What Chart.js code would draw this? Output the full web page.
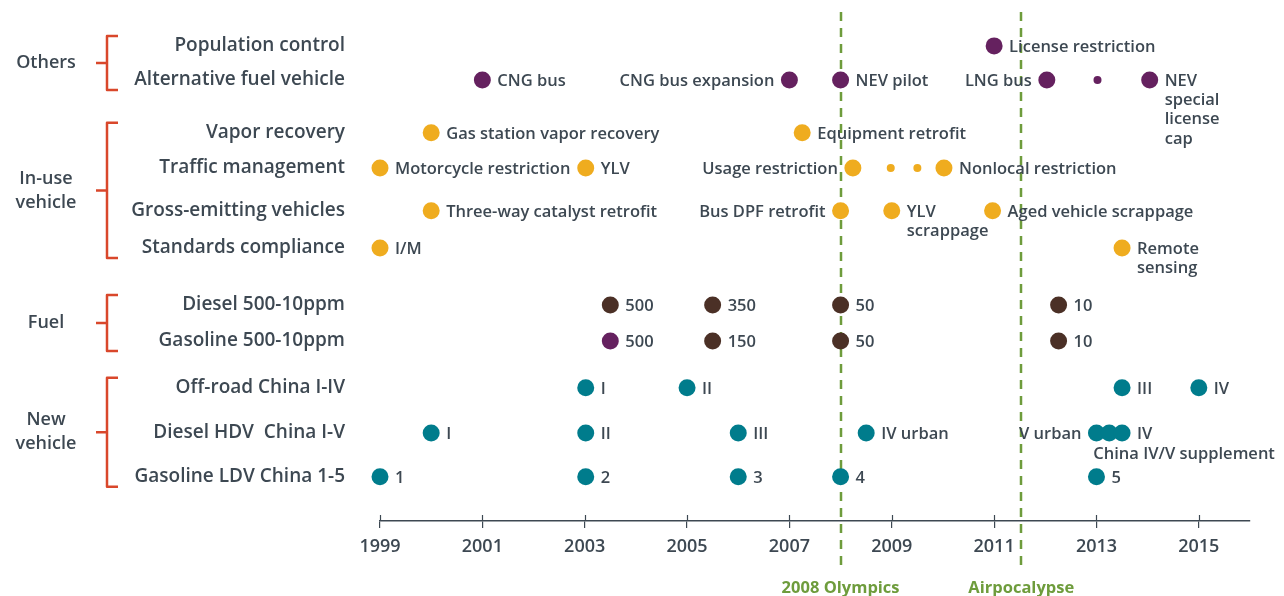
<!DOCTYPE html>
<html>
<head>
<meta charset="utf-8">
<script src="https://cdn.jsdelivr.net/npm/chart.js@4/dist/chart.umd.min.js"></script>
<style>
    body { margin: 0; background: #fff; }
    #wrap { width: 1284px; height: 596px; }
</style>
</head>
<body>
<div id="wrap"><canvas id="timeline" width="1284" height="596"></canvas></div>
<script>
// Rows of the timeline, top to bottom
const rowNames = ['Population control', 'Alternative fuel vehicle', 'Vapor recovery', 'Traffic management',
    'Gross-emitting vehicles', 'Standards compliance', 'Diesel 500-10ppm', 'Gasoline 500-10ppm',
    'Off-road China I-IV', 'Diesel HDV  China I-V', 'Gasoline LDV China 1-5'];
const rowPos = [0, 0.99, 2.52, 3.54, 4.78, 5.86, 7.51, 8.55, 9.91, 11.22, 12.49];

// Brackets on the left: [label lines, first row, last row]
const groups = [
    [['Others'], 0, 1],
    [['In-use', 'vehicle'], 2, 5],
    [['Fuel'], 6, 7],
    [['New', 'vehicle'], 8, 10]
];

const xTicks = [1999, 2001, 2003, 2005, 2007, 2009, 2011, 2013, 2015];
const markers = [[2008.0, '2008 Olympics'], [2011.53, 'Airpocalypse']];

// Events per colour: row index, year, label, label side (r = right, l = left, b = below)
const purpleRows = [0, 1, 1, 1, 1, 1, 7];
const purpleYears = [2011.0, 2001.0, 2007.0, 2008.0, 2012.03, 2014.04, 2003.5];
const purpleLabels = ['License restriction', 'CNG bus', 'CNG bus expansion', 'NEV pilot', 'LNG bus', 'NEV\nspecial\nlicense\ncap', '500'];
const purpleSides = ['r', 'r', 'l', 'r', 'l', 'r', 'r'];

const orangeRows = [2, 2, 3, 3, 3, 3, 4, 4, 4, 4, 5, 5];
const orangeYears = [2000.0, 2007.25, 1999.0, 2003.02, 2008.24, 2010.02, 2000.0, 2008.0, 2009.0, 2010.97, 1999.0, 2013.5];
const orangeLabels = ['Gas station vapor recovery', 'Equipment retrofit', 'Motorcycle restriction', 'YLV', 'Usage restriction',
    'Nonlocal restriction', 'Three-way catalyst retrofit', 'Bus DPF retrofit', 'YLV\nscrappage', 'Aged vehicle scrappage', 'I/M', 'Remote\nsensing'];
const orangeSides = ['r', 'r', 'r', 'r', 'l', 'r', 'r', 'l', 'r', 'r', 'r', 'r'];

const brownRows = [6, 6, 6, 6, 7, 7, 7];
const brownYears = [2003.5, 2005.5, 2008.0, 2012.26, 2005.5, 2008.0, 2012.26];
const brownLabels = ['500', '350', '50', '10', '150', '50', '10'];
const brownSides = ['r', 'r', 'r', 'r', 'r', 'r', 'r'];

const tealRows = [8, 8, 8, 8, 9, 9, 9, 9, 9, 9, 9, 10, 10, 10, 10, 10];
const tealYears = [2003.02, 2005.0, 2013.5, 2015.0, 2000.0, 2003.02, 2006.0, 2008.5, 2013.0, 2013.25, 2013.5, 1999.0, 2003.02, 2006.0, 2008.0, 2013.0];
const tealLabels = ['I', 'II', 'III', 'IV', 'I', 'II', 'III', 'IV urban', 'V urban', 'China IV/V supplement', 'IV', '1', '2', '3', '4', '5'];
const tealSides = ['r', 'r', 'r', 'r', 'r', 'r', 'r', 'r', 'l', 'b', 'r', 'r', 'r', 'r', 'r', 'r'];

// Small "continuation" dots
const minorRows = [1, 3, 3];
const minorYears = [2013.02, 2008.98, 2009.5];
const minorColors = ['#65215f', '#efac1f', '#efac1f'];

const TEXT = '#3d4852';
const FONT = '"Open Sans", sans-serif';

function buildPoints(rows, years, labels, sides) {
    return rows.map((r, i) => ({ x: years[i], y: rowPos[r], t: labels[i], s: sides[i] }));
}

// Dashed event lines, drawn under the dots
const markerPlugin = {
    id: 'markers',
    beforeDatasetsDraw(chart) {
        const { ctx, scales: { x }, chartArea } = chart;
        ctx.save();
        ctx.strokeStyle = '#6e9c3c';
        ctx.lineWidth = 2.5;
        ctx.setLineDash([9, 7]);
        markers.forEach(([yr]) => {
            const px = Math.round(x.getPixelForValue(yr));
            ctx.beginPath();
            ctx.moveTo(px, chartArea.top + 2);
            ctx.lineTo(px, chartArea.bottom + 50);
            ctx.stroke();
        });
        ctx.setLineDash([]);
        ctx.fillStyle = '#6e9c3c';
        ctx.font = 'bold 16.5px ' + FONT;
        ctx.textAlign = 'center';
        ctx.textBaseline = 'middle';
        markers.forEach(([yr, name]) => {
            ctx.fillText(name, x.getPixelForValue(yr), chartArea.bottom + 67);
        });
        // upper half of the axis ticks
        ctx.strokeStyle = TEXT;
        ctx.lineWidth = 1.2;
        xTicks.forEach(v => {
            const px = Math.round(x.getPixelForValue(v)) + 0.5;
            ctx.beginPath();
            ctx.moveTo(px, chartArea.bottom - 6);
            ctx.lineTo(px, chartArea.bottom);
            ctx.stroke();
        });
        ctx.restore();
    }
};

// Text next to each dot
const labelPlugin = {
    id: 'eventLabels',
    afterDatasetsDraw(chart) {
        const ctx = chart.ctx;
        ctx.save();
        ctx.font = '600 16.5px ' + FONT;
        ctx.fillStyle = TEXT;
        ctx.textBaseline = 'middle';
        chart.data.datasets.forEach((ds, di) => {
            if (!ds.withLabels) return;
            chart.getDatasetMeta(di).data.forEach((pt, i) => {
                const raw = ds.data[i];
                const lines = raw.t.split('\n');
                lines.forEach((line, k) => {
                    if (raw.s === 'l') {
                        ctx.textAlign = 'right';
                        ctx.fillText(line, pt.x - 15, pt.y + 1 + k * 19.3);
                    } else if (raw.s === 'b') {
                        ctx.textAlign = 'left';
                        ctx.fillText(line, pt.x - 16, pt.y + 21 + k * 19.3);
                    } else {
                        ctx.textAlign = 'left';
                        ctx.fillText(line, pt.x + 15, pt.y + 1 + k * 19.3);
                    }
                });
            });
        });
        ctx.restore();
    }
};

// Red brackets and group names on the far left
const bracketPlugin = {
    id: 'brackets',
    afterDraw(chart) {
        const { ctx, scales: { y } } = chart;
        ctx.save();
        ctx.strokeStyle = '#d9472b';
        ctx.lineWidth = 2.5;
        ctx.lineJoin = 'round';
        ctx.fillStyle = TEXT;
        ctx.font = '600 18px ' + FONT;
        ctx.textAlign = 'center';
        ctx.textBaseline = 'middle';
        groups.forEach(([name, first, last]) => {
            const top = y.getPixelForValue(rowPos[first]) - 10;
            const bot = y.getPixelForValue(rowPos[last]) + 10;
            const mid = (top + bot) / 2;
            ctx.beginPath();
            ctx.moveTo(118, top);
            ctx.lineTo(107, top);
            ctx.lineTo(107, bot);
            ctx.lineTo(118, bot);
            ctx.moveTo(107, mid);
            ctx.lineTo(96, mid);
            ctx.stroke();
            name.forEach((line, k) => {
                ctx.fillText(line, 46, mid + (k - (name.length - 1) / 2) * 24);
            });
        });
        ctx.restore();
    }
};

new Chart(document.getElementById('timeline'), {
    type: 'scatter',
    data: {
        datasets: [
            { data: buildPoints(purpleRows, purpleYears, purpleLabels, purpleSides), backgroundColor: '#65215f', pointRadius: 8.5, withLabels: true },
            { data: buildPoints(orangeRows, orangeYears, orangeLabels, orangeSides), backgroundColor: '#efac1f', pointRadius: 8.5, withLabels: true },
            { data: buildPoints(brownRows, brownYears, brownLabels, brownSides), backgroundColor: '#4b3026', pointRadius: 8.5, withLabels: true },
            { data: buildPoints(tealRows, tealYears, tealLabels, tealSides), backgroundColor: '#007c8c', pointRadius: 8.5, withLabels: true },
            { data: minorRows.map((r, i) => ({ x: minorYears[i], y: rowPos[r] })), backgroundColor: minorColors, pointRadius: 4 }
        ]
    },
    options: {
        responsive: false,
        animation: false,
        clip: false,
        layout: { padding: { left: 10, top: 10, right: 34, bottom: 15 } },
        elements: { point: { borderWidth: 0, hoverRadius: 8.5 } },
        plugins: { legend: { display: false }, tooltip: { enabled: false } },
        scales: {
            x: {
                type: 'linear',
                min: 1999,
                max: 2016,
                afterBuildTicks: s => { s.ticks = xTicks.map(v => ({ value: v })); },
                afterFit: s => { s.height = 60; },
                ticks: { callback: v => String(v), color: TEXT, font: { size: 18, family: FONT, weight: '600' }, padding: 8 },
                grid: { drawOnChartArea: false, color: TEXT, tickLength: 7, lineWidth: 1.2 },
                border: { color: TEXT, width: 1.5 }
            },
            y: {
                type: 'linear',
                reverse: true,
                min: -1.04,
                max: 13.77,
                afterBuildTicks: s => { s.ticks = rowPos.map(v => ({ value: v })); },
                // fixed width, and no extra top/bottom room for the first and last labels
                afterFit: s => { s.width = 370; s.paddingTop = 0; s.paddingBottom = 0; },
                ticks: {
                    callback: v => rowNames[rowPos.indexOf(v)],
                    color: TEXT,
                    font: { size: 19, family: FONT, weight: '600' },
                    padding: 27
                },
                grid: { display: false },
                border: { display: false }
            }
        }
    },
    plugins: [markerPlugin, labelPlugin, bracketPlugin]
});
</script>
</body>
</html>
